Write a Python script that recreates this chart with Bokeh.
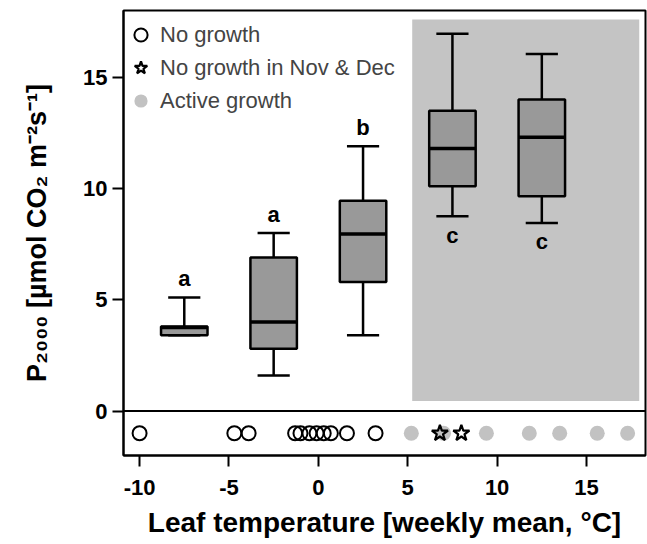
from bokeh.plotting import figure
from bokeh.models import FixedTicker, Span, Legend, LegendItem
from bokeh.core.properties import value
from bokeh.embed import file_html
from bokeh.resources import INLINE

# ---- data ----
bin_centers = [-7.5, -2.5, 2.5, 7.5, 12.5]
whisker_low = [3.4, 1.6, 3.4, 8.75, 8.45]
q1 = [3.4, 2.8, 5.8, 10.1, 9.65]
median = [3.75, 4.0, 7.95, 11.8, 12.3]
q3 = [3.8, 6.9, 9.45, 13.5, 14.0]
whisker_high = [5.1, 8.0, 11.9, 16.95, 16.05]
letters = ["a", "a", "b", "c", "c"]

no_growth_temp = [-10.0, -4.7, -3.9, -1.3, -1.0, -0.5, -0.1, 0.3, 0.7, 1.6, 3.2]
active_growth_temp = [5.2, 7.0, 9.4, 11.8, 13.5, 15.6, 17.3]
nov_dec_temp = [6.8, 8.0]
strip_value = -1.0

active_zone_x = [5.25, 17.95]
active_zone_y = [0.45, 17.6]

x_ticks = [-10, -5, 0, 5, 10, 15]
x_tick_labels = ["-10", "-5", "0", "5", "10", "15"]
y_ticks = [0, 5, 10, 15]
y_tick_labels = ["0", "5", "10", "15"]

# ---- styles ----
FONT = "Liberation Sans"
BOX_W = 2.6
CAP_W = 1.8

p = figure(width=647, height=544, x_range=(-10.9, 18.3), y_range=(-2.0, 18.0),
           output_backend="svg", toolbar_location=None,
           min_border_left=123, min_border_right=2, min_border_top=10, min_border_bottom=89)
p.xgrid.visible = False
p.ygrid.visible = False
p.outline_line_color = "black"
p.outline_line_width = 2
p.outline_line_alpha = 1.0
p.background_fill_color = "white"

# active growth zone
p.quad(left=[active_zone_x[0]], right=[active_zone_x[1]],
       bottom=[active_zone_y[0]], top=[active_zone_y[1]],
       fill_color="#c4c4c4", line_color=None)

p.add_layout(Span(location=0, dimension="width", line_color="black", line_width=2))

# whiskers
p.segment(x0=bin_centers, y0=q3, x1=bin_centers, y1=whisker_high, line_color="black", line_width=2.5)
p.segment(x0=bin_centers, y0=q1, x1=bin_centers, y1=whisker_low, line_color="black", line_width=2.5)
p.segment(x0=[c - CAP_W / 2 for c in bin_centers], y0=whisker_high,
          x1=[c + CAP_W / 2 for c in bin_centers], y1=whisker_high, line_color="black", line_width=2.5)
p.segment(x0=[c - CAP_W / 2 for c in bin_centers], y0=whisker_low,
          x1=[c + CAP_W / 2 for c in bin_centers], y1=whisker_low, line_color="black", line_width=2.5)
# boxes
p.vbar(x=bin_centers, width=BOX_W, bottom=q1, top=q3,
       fill_color="#999999", line_color="black", line_width=2.5)
p.segment(x0=[c - BOX_W / 2 for c in bin_centers], y0=median,
          x1=[c + BOX_W / 2 for c in bin_centers], y1=median, line_color="black", line_width=3.5)

# significance letters: above the whisker outside active zone, below inside it
letter_y = [wh + 0.85 if c < active_zone_x[0] else wl - 0.85
            for c, wh, wl in zip(bin_centers, whisker_high, whisker_low)]
p.text(x=bin_centers, y=letter_y, text=letters, text_font_size="22px",
       text_font_style="bold", text_align="center", text_baseline="middle",
       text_font=value(FONT), text_color="black")

# strip of weekly temperatures
r_active = p.scatter(x=active_growth_temp, y=[strip_value] * len(active_growth_temp),
                     marker="circle", size=15, fill_color="#c2c2c2", line_color=None)
r_nogrowth = p.scatter(x=no_growth_temp, y=[strip_value] * len(no_growth_temp),
                       marker="circle", size=14, fill_color=None, line_color="black", line_width=2)
r_novdec = p.scatter(x=nov_dec_temp, y=[strip_value] * len(nov_dec_temp),
                     marker="star", size=17, fill_color=None, line_color="black", line_width=2.2)

legend = Legend(items=[LegendItem(label="No growth", renderers=[r_nogrowth]),
                       LegendItem(label="No growth in Nov & Dec", renderers=[r_novdec]),
                       LegendItem(label="Active growth", renderers=[r_active])],
                location=(0, 338), margin=0, padding=0, spacing=0,
                glyph_width=35, glyph_height=33, label_standoff=2,
                label_text_font=FONT, label_text_font_size="22px",
                border_line_color=None, background_fill_alpha=0)
p.add_layout(legend)

# axes
for ax in (p.xaxis[0], p.yaxis[0]):
    ax.axis_line_width = 2
    ax.axis_line_color = "black"
    ax.major_tick_line_width = 2
    ax.major_tick_in = 0
    ax.major_tick_out = 11
    ax.minor_tick_line_color = None
    ax.major_label_text_font = FONT
    ax.major_label_text_font_size = "22px"
    ax.major_label_text_font_style = "bold"
    ax.major_label_text_color = "black"
    ax.axis_label_text_font = FONT
    ax.axis_label_text_font_style = "bold"
    ax.axis_label_text_color = "black"

p.xaxis.ticker = FixedTicker(ticks=x_ticks)
p.xaxis.major_label_overrides = dict(zip(x_ticks, x_tick_labels))
p.yaxis.ticker = FixedTicker(ticks=y_ticks)
p.yaxis.major_label_overrides = dict(zip(y_ticks, y_tick_labels))
p.xaxis.major_label_standoff = 13
p.yaxis.major_label_standoff = 5
p.xaxis.axis_label = "Leaf temperature [weekly mean, °C]"
p.xaxis.axis_label_text_font_size = "28px"
p.xaxis.axis_label_standoff = 9
p.yaxis.axis_label = "P₂₀₀₀ [µmol CO₂ m⁻²s⁻¹]"
p.yaxis.axis_label_text_font_size = "27px"
p.yaxis.axis_label_standoff = 28

open("out.html", "w").write(file_html(p, INLINE))
